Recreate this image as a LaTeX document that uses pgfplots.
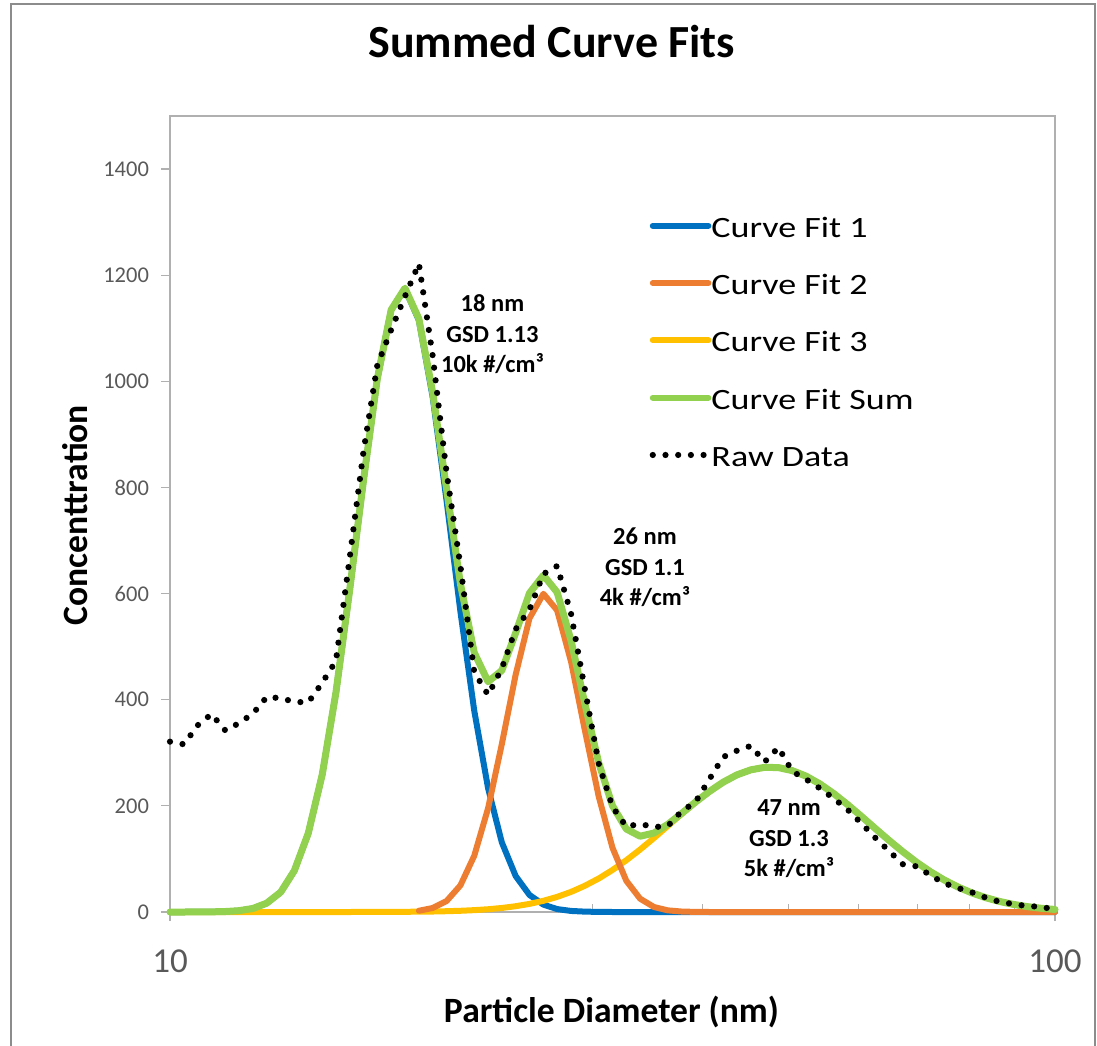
\documentclass[border=0pt]{standalone}
\usepackage{fontspec}
\setmainfont{Carlito}
\newfontfamily\legfont[FakeStretch=1.22]{Carlito}
\usepackage{pgfplots}
\pgfplotsset{compat=1.18}
\usepackage{pgfplotstable}

\definecolor{fitblue}{RGB}{0,112,192}
\definecolor{fitorange}{RGB}{237,125,49}
\definecolor{fityellow}{RGB}{255,192,0}
\definecolor{fitgreen}{RGB}{146,208,80}
\definecolor{axisgray}{RGB}{176,176,176}
\definecolor{framegray}{RGB}{140,140,140}
\definecolor{labelgray}{RGB}{89,89,89}

\tikzset{
  fitline/.style={line width=6pt, line join=round, line cap=round},
  rawline/.style={black, line width=6.2pt, line cap=round,
    dash pattern=on 0pt off 12.7pt},
  annot/.style={anchor=base, align=center, inner sep=0pt,
    font=\bfseries\fontsize{24.5}{30.5}\selectfont},
}

% diameter (nm), raw SMPS data, three lognormal fits and their sum
\pgfplotstableread{
d      raw   fitA    fitB   fitC   fitsum
10.00  321   0       0      0      0
10.37  316   0       0      0      0
10.75  352   0.1     0      0      0.1
11.14  373   0.3     0      0      0.3
11.55  342   0.9     0      0      0.9
11.97  356   2.5     0      0      2.5
12.41  374   6.7     0      0      6.7
12.86  405   16.6    0      0      16.6
13.34  403   37.5    0      0      37.5
13.82  396   77.9    0      0      77.9
14.33  395   148.3   0      0      148.3
14.86  432   258.7   0      0      258.7
15.40  473   413.7   0      0      413.7
15.96  667   606.5   0      0      606.5
16.55  870   815.1   0      0.1    815.2
17.15  1030  1004.3  0      0.1    1004.4
17.78  1097  1134.3  0.2    0.2    1134.7
18.43  1160  1174.5  0.7    0.4    1175.6
19.11  1222  1114.8  2.4    0.6    1117.8
19.81  1048  970.0   7.6    0.9    978.5
20.54  827   773.7   20.8   1.5    796.0
21.29  652   565.8   50.2   2.3    618.3
22.07  452   379.2   106.0  3.5    488.7
22.88  409   233.0   195.7  5.2    433.9
23.71  459   131.3   316.2  7.6    455.1
24.58  533   67.8    447.2  10.9   525.9
25.48  570   32.1    553.5  15.3   600.9
26.42  637   13.9    599.6  21.1   634.6
27.38  652   5.5     568.5  28.5   602.5
28.39  562   2.0     471.7  37.9   511.6
29.43  420   0.7     342.5  49.4   392.6
30.51  280   0.2     217.7  63.1   281.0
31.62  198   0       121.1  79.2   200.3
32.78  161   0       58.9   97.5   156.4
33.98  166   0       25.1   117.7  142.8
35.23  160   0       9.4    139.4  148.8
36.52  162   0       3.1    162.1  165.2
37.86  190   0       0.9    184.8  185.7
39.24  207   0       0.2    206.8  207.0
40.68  250   0       0      227.0  227.0
42.17  292   0       0      244.6  244.6
43.71  304   0       0      258.4  258.4
45.32  313   0       0      267.9  267.9
46.98  283   0       0      272.6  272.6
48.70  310   0       0      272.1  272.1
50.48  265   0       0      266.4  266.4
52.33  250   0       0      256.0  256.0
54.25  233   0       0      241.3  241.3
56.23  214   0       0      223.2  223.2
58.29  193   0       0      202.5  202.5
60.43  167   0       0      180.3  180.3
62.64  140   0       0      157.5  157.5
64.94  115   0       0      135.0  135.0
67.32  90    0       0      113.5  113.5
69.78  86    0       0      93.6   93.6
72.34  69    0       0      75.8   75.8
74.99  54    0       0      60.2   60.2
77.74  45    0       0      46.9   46.9
80.58  37    0       0      35.9   35.9
83.54  27    0       0      26.9   26.9
86.60  19    0       0      19.8   19.8
89.77  15    0       0      14.3   14.3
93.06  11    0       0      10.1   10.1
96.47  10    0       0      7.0    7.0
100.00 4     0       0      4.8    4.8
}\sizedist

\begin{document}
\begin{tikzpicture}[x=1pt,y=1pt]
\useasboundingbox (0,0) rectangle (1097,1045);
\draw[framegray, line width=1.5pt] (11,-5) -- (11,1041) -- (1095,1041) -- (1095,-5);
\begin{axis}[
  at={(170pt,133pt)}, anchor=south west,
  scale only axis, width=885pt, height=796pt,
  xmode=log, log basis x=10,
  xmin=10, xmax=100, ymin=0, ymax=1500,
  clip=false,
  xtick={10,100}, xticklabels={10,100},
  minor xtick={20,30,40,50,60,70,80,90},
  ytick={0,200,400,600,800,1000,1200,1400},
  yticklabels={0,200,400,600,800,1000,1200,1400},
  xtick pos=left, ytick pos=left,
  tick align=outside,
  major tick length=9pt, minor tick length=8pt,
  minor x tick style={yshift=8pt},
  tick style={axisgray, line width=1.2pt},
  axis line style={axisgray, line width=1.5pt},
  yticklabel style={font=\fontsize{22.5}{27}\selectfont, text=labelgray,
    anchor=east, inner sep=0pt, xshift=-12pt},
  xticklabel style={font=\fontsize{35}{42}\selectfont, text=labelgray,
    anchor=north, inner sep=0pt, yshift=-29pt},
  title={Summed Curve Fits},
  title style={at={(axis description cs:0.4315,1.0660)}, anchor=base,
    inner sep=0pt, font=\bfseries\fontsize{46}{55}\selectfont},
  xlabel={Particle Diameter (nm)},
  xlabel style={at={(axis description cs:0.4989,-0.1394)}, anchor=base,
    inner sep=0pt, font=\bfseries\fontsize{35.6}{42}\selectfont},
  ylabel={Concenttration},
  ylabel style={at={(axis description cs:-0.0927,0.4987)}, anchor=base,
    inner sep=0pt, font=\bfseries\fontsize{35.6}{42}\selectfont},
  legend image code/.code={\draw[#1] (0pt,2pt) -- (55.6pt,2pt);},
  legend style={at={(axis description cs:0.5420,0.8715)}, anchor=north west,
    draw=none, fill=none, inner sep=0pt, outer sep=0pt, row sep=38.3pt,
    nodes={inner sep=0pt, outer sep=0pt, text height=19pt, text depth=0pt,
      font=\legfont\fontsize{29.5}{35}\selectfont},
    /tikz/every even column/.append style={column sep=8.7pt}},
  legend cell align=left,
]
\addplot[fitline, fitblue, forget plot] table[x=d, y=fitA] {\sizedist};
\addplot[fitline, fityellow, forget plot] table[x=d, y=fitC] {\sizedist};
\addplot[fitline, fitorange, forget plot, skip coords between index={0}{18}] table[x=d, y=fitB] {\sizedist};
\addplot[fitline, fitgreen, line width=7pt, forget plot] table[x=d, y=fitsum] {\sizedist};
\addplot[rawline, forget plot] table[x=d, y=raw] {\sizedist};

\addlegendimage{fitline, fitblue}
\addlegendentry{Curve Fit 1}
\addlegendimage{fitline, fitorange}
\addlegendentry{Curve Fit 2}
\addlegendimage{fitline, fityellow}
\addlegendentry{Curve Fit 3}
\addlegendimage{fitline, fitgreen}
\addlegendentry{Curve Fit Sum}
\addlegendimage{rawline}
\addlegendentry{Raw Data}

% anchor=base sits on the baseline of the last line of each note
\node[annot] at (axis cs:23.14,1016.6) {18 nm\\GSD 1.13\\10k \#/cm³};
\node[annot] at (axis cs:34.41,576.8) {26 nm\\GSD 1.1\\4k \#/cm³};
\node[annot] at (axis cs:50.05,66.5) {47 nm\\GSD 1.3\\5k \#/cm³};
\end{axis}
\end{tikzpicture}
\end{document}
